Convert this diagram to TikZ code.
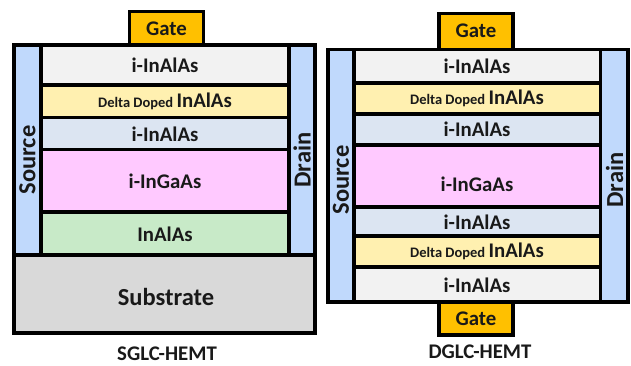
\documentclass[tikz,border=0pt]{standalone}
\usepackage{fontspec}
\setmainfont{Carlito}
\definecolor{cgray}{HTML}{F2F2F2}
\definecolor{cyel}{HTML}{FFF0B0}
\definecolor{cblu}{HTML}{DCE5F2}
\definecolor{cpink}{HTML}{FFC9FF}
\definecolor{cgreen}{HTML}{C8EAC8}
\definecolor{csub}{HTML}{D9D9D9}
\definecolor{cbar}{HTML}{C0D9FC}
\definecolor{cgate}{HTML}{FFC000}
\newcommand\ddsmall{\fontsize{14.5}{16}\selectfont}
\tikzset{
  lay/.style={draw=black, line width=3.6pt},
  lbl/.style={font=\bfseries\fontsize{20.8}{23}\selectfont, text=black!90, inner sep=0pt},
  big/.style={font=\bfseries\fontsize{24.5}{27}\selectfont, text=black!90, inner sep=0pt},
}
\begin{document}
\begin{tikzpicture}[x=1pt,y=-1pt]
\useasboundingbox (0,0) rectangle (631,365);
% ---------- left device (SGLC) ----------
\filldraw[lay, fill=cgate] (129.5,11.5) rectangle (203.5,45);
\filldraw[lay, fill=csub] (14,255) rectangle (315,333);
\filldraw[lay, fill=cbar] (14,45) rectangle (41,255);
\filldraw[lay, fill=cbar] (289,45) rectangle (315,255);
\filldraw[lay, fill=cgray] (41,45) rectangle (289,85);
\filldraw[lay, fill=cyel] (41,85) rectangle (289,117.5);
\filldraw[lay, fill=cblu] (41,117.5) rectangle (289,149.5);
\filldraw[lay, fill=cpink] (41,149.5) rectangle (289,212);
\filldraw[lay, fill=cgreen] (41,212) rectangle (289,255);
\node[lbl] (g1) at (166.5,28.5) {Gate};
\node[lbl] (a1) at (165,65.5) {i-InAlAs};
\node[lbl] (d1) at (165,101.5) {{\ddsmall Delta Doped }InAlAs};
\node[lbl] (b1) at (165,134) {i-InAlAs};
\node[lbl] (c1) at (165,181) {i-InGaAs};
\node[lbl] (e1) at (165,234) {InAlAs};
\node[big] (s1) at (166,297) {Substrate};
\node[big, rotate=90] (src1) at (27.5,160) {Source};
\node[big, rotate=90] (drn1) at (302,160) {Drain};
\node[lbl] (t1) at (167,354) {SGLC-HEMT};
% ---------- right device (DGLC) ----------
\filldraw[lay, fill=cgate] (439,13.5) rectangle (513,49.5);
\filldraw[lay, fill=cgate] (439,302) rectangle (513,335);
\filldraw[lay, fill=cbar] (328,49.5) rectangle (354,302);
\filldraw[lay, fill=cbar] (600.5,49.5) rectangle (628,302);
\filldraw[lay, fill=cgray] (354,49.5) rectangle (600.5,83);
\filldraw[lay, fill=cyel] (354,83) rectangle (600.5,113.7);
\filldraw[lay, fill=cblu] (354,113.7) rectangle (600.5,144.7);
\filldraw[lay, fill=cpink] (354,144.7) rectangle (600.5,206.7);
\filldraw[lay, fill=cblu] (354,206.7) rectangle (600.5,236);
\filldraw[lay, fill=cyel] (354,236) rectangle (600.5,267);
\filldraw[lay, fill=cgray] (354,267) rectangle (600.5,302);
\node[lbl] (g2) at (476,31) {Gate};
\node[lbl] (g3) at (476,319) {Gate};
\node[lbl] (a2) at (477,66) {i-InAlAs};
\node[lbl] (d2) at (477,98.5) {{\ddsmall Delta Doped }InAlAs};
\node[lbl] (b2) at (477,129.5) {i-InAlAs};
\node[lbl] (c2) at (477,184) {i-InGaAs};
\node[lbl] (b3) at (477,222) {i-InAlAs};
\node[lbl] (d3) at (477,251.5) {{\ddsmall Delta Doped }InAlAs};
\node[lbl] (a3) at (477,285) {i-InAlAs};
\node[big, rotate=90] (src2) at (341,180) {Source};
\node[big, rotate=90] (drn2) at (614.5,180) {Drain};
\node[lbl] (t2) at (480,352) {DGLC-HEMT};
\end{tikzpicture}
\end{document}
